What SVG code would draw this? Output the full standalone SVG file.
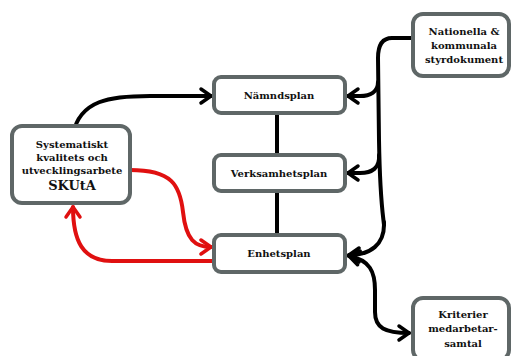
<svg xmlns="http://www.w3.org/2000/svg" width="512" height="356" viewBox="0 0 512 356">
<style>
.box{fill:#fff;stroke:#5f6767;stroke-width:4}
.t{font-family:"DejaVu Serif","Liberation Serif",serif;font-weight:bold;font-size:10px;fill:#111;text-anchor:middle}
.blk{fill:none;stroke:#000;stroke-width:4;stroke-linecap:round}
.red{fill:none;stroke:#e01010;stroke-width:4;stroke-linecap:round}
</style>
<defs>
<marker id="ab" markerUnits="userSpaceOnUse" markerWidth="20" markerHeight="20" refX="14" refY="10" orient="auto-start-reverse" viewBox="0 0 20 20">
<path d="M4,3 L14,10 L4,17" fill="none" stroke="#000" stroke-width="3.5" stroke-linecap="round" stroke-linejoin="round"/>
</marker>
<marker id="ar" markerUnits="userSpaceOnUse" markerWidth="20" markerHeight="20" refX="14" refY="10" orient="auto-start-reverse" viewBox="0 0 20 20">
<path d="M4,3 L14,10 L4,17" fill="none" stroke="#e01010" stroke-width="3.5" stroke-linecap="round" stroke-linejoin="round"/>
</marker>
</defs>
<g id="connectors">
<path class="blk" d="M277 113 L277 155 M277 191 L277 235"/>
<path class="blk" marker-end="url(#ab)" d="M73 134 C80 100,110 96,150 96 L211 96"/>
<path class="red" marker-end="url(#ar)" d="M130 170 C172 170,180 185,183 212 C186 240,195 247,211 247"/>
<path class="red" marker-end="url(#ar)" d="M213 261 L112 261 C82 261,73 240,73 207"/>
<path class="blk" d="M411 38 L392 38 C382 38,378 45,378 58 L379 140 C380 200,383 215,384 225"/>
<path class="blk" marker-end="url(#ab)" d="M378 82 C378 92,370 96,360 96 L348 96"/>
<path class="blk" marker-end="url(#ab)" d="M379 155 C380 168,372 173,360 173 L348 173"/>
<path class="blk" marker-end="url(#ab)" d="M384 222 C385 245,370 255,349 255"/>
<path class="blk" marker-start="url(#ab)" marker-end="url(#ab)" d="M349 256 C370 260,375 272,375 290 L375 312 C375 328,385 333,409 333"/>
</g>
<g id="skuta">
<rect class="box" x="12" y="126" width="118" height="77" rx="10"/>
<text class="t" x="72" y="148">Systematiskt</text>
<text class="t" x="72" y="161">kvalitets och</text>
<text class="t" x="72" y="174">utvecklingsarbete</text>
<text class="t" x="72" y="190" style="font-size:13px">SKUtA</text>
</g>
<g id="namndsplan">
<rect class="box" x="214" y="77" width="131" height="36" rx="7"/>
<text class="t" x="279" y="99">Nämndsplan</text>
</g>
<g id="verksamhetsplan">
<rect class="box" x="214" y="155" width="131" height="36" rx="7"/>
<text class="t" x="279" y="177">Verksamhetsplan</text>
</g>
<g id="enhetsplan">
<rect class="box" x="214" y="235" width="131" height="37" rx="7"/>
<text class="t" x="279" y="257">Enhetsplan</text>
</g>
<g id="nationella">
<rect class="box" x="413" y="14" width="96" height="62" rx="10"/>
<text class="t" x="464" y="35">Nationella &amp;</text>
<text class="t" x="464" y="49">kommunala</text>
<text class="t" x="464" y="63">styrdokument</text>
</g>
<g id="kriterier">
<rect class="box" x="413" y="298" width="96" height="62" rx="10"/>
<text class="t" x="463" y="318">Kriterier</text>
<text class="t" x="463" y="332">medarbetar-</text>
<text class="t" x="463" y="347">samtal</text>
</g>
</svg>
